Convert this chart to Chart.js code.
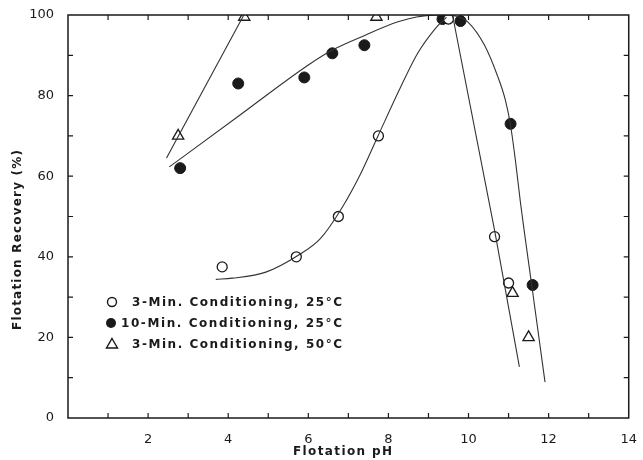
<!DOCTYPE html>
<html>
<head>
<meta charset="utf-8">
<script src="https://cdn.jsdelivr.net/npm/chart.js@4/dist/chart.umd.min.js"></script>
<style>
  html, body { margin: 0; padding: 0; background: #fff; }
  #wrap { width: 643px; height: 460px; }
</style>
</head>
<body>
<div id="wrap"><canvas id="chart"></canvas></div>
<script>
// measured points
const phOpen25 = [3.85, 5.7, 6.75, 7.75, 9.5, 10.65, 11.0];
const recOpen25 = [37.5, 40, 50, 70, 99, 45, 33.5];
const phFilled25 = [2.8, 4.25, 5.9, 6.6, 7.4, 9.35, 9.8, 11.05, 11.6];
const recFilled25 = [62, 83, 84.5, 90.5, 92.5, 99, 98.5, 73, 33];
const phTri50 = [2.75, 4.4, 7.7, 11.1, 11.5];
const recTri50 = [70, 99.5, 99.5, 31, 20];

// hand drawn curves
const curveTriX = [2.46, 4.39];
const curveTriY = [64.5, 100];
const curveFilledX = [2.53, 4.27, 6.0, 6.58, 7.42, 8.24, 8.7, 9.3, 9.7, 9.98, 10.4, 10.72, 10.92, 11.04, 11.17, 11.29, 11.6, 11.91];
const curveFilledY = [62.3, 75, 87.6, 91.2, 95, 98.3, 99.5, 100, 99.7, 98.3, 92.5, 85, 78.9, 73.2, 64, 54, 31.4, 8.9];
const curveOpenX = [3.69, 4.1, 4.94, 5.77, 6.3, 6.83, 7.3, 7.74, 8.3, 8.73, 9.16, 9.45];
const curveOpenY = [34.4, 34.7, 36.2, 40.5, 44.5, 52, 60.5, 70, 82, 90.5, 96.5, 99.5];
const curveOpenDownX = [9.6, 10.65, 11.27];
const curveOpenDownY = [100, 46.6, 12.7];

const xTicks = [2, 4, 6, 8, 10, 12, 14];
const yTicks = [0, 20, 40, 60, 80, 100];

const legendLabels = ["3-Min. Conditioning, 25\u00b0C", "10-Min. Conditioning, 25\u00b0C", "3-Min. Conditioning, 50\u00b0C"];

const ink = "#1a1a1a";
const lineInk = "#333333";
const fontFamily = "'DejaVu Sans', sans-serif";

function toPoints(xs, ys) {
    return xs.map((x, i) => ({ x: x, y: ys[i] }));
}

function curve(xs, ys, smooth) {
    return {
        data: toPoints(xs, ys),
        showLine: true,
        borderColor: lineInk,
        borderWidth: 1.1,
        pointRadius: 0,
        tension: smooth ? 0.4 : 0,
        cubicInterpolationMode: smooth ? "monotone" : "default",
        fill: false
    };
}

// fit a string between two x positions by spreading the letters
function spacedText(ctx, text, x, y, width) {
    ctx.letterSpacing = "0px";
    const w = ctx.measureText(text).width;
    const gap = (width - w) / (text.length - 1);
    ctx.letterSpacing = gap.toFixed(2) + "px";
    ctx.fillText(text, x, y);
    ctx.letterSpacing = "0px";
}

// draws the box, inward ticks, axis titles and the legend
const framePlugin = {
    id: "frame",
    afterDraw(chart) {
        const ctx = chart.ctx;
        const xs = chart.scales.x;
        const ys = chart.scales.y;
        const a = chart.chartArea;
        ctx.save();
        ctx.strokeStyle = ink;
        ctx.lineWidth = 1.5;
        ctx.strokeRect(a.left, a.top, a.right - a.left, a.bottom - a.top);
        ctx.lineWidth = 1.2;
        const len = 5;
        for (let v = 1; v < 14; v++) {
            const px = xs.getPixelForValue(v);
            ctx.beginPath();
            ctx.moveTo(px, a.bottom); ctx.lineTo(px, a.bottom - len);
            ctx.moveTo(px, a.top); ctx.lineTo(px, a.top + len);
            ctx.stroke();
        }
        for (let v = 10; v < 100; v += 10) {
            const py = ys.getPixelForValue(v);
            ctx.beginPath();
            ctx.moveTo(a.left, py); ctx.lineTo(a.left + len, py);
            ctx.moveTo(a.right, py); ctx.lineTo(a.right - len, py);
            ctx.stroke();
        }

        // axis titles
        ctx.fillStyle = ink;
        ctx.font = "bold 12px " + fontFamily;
        ctx.textAlign = "left";
        ctx.textBaseline = "middle";
        spacedText(ctx, "Flotation pH", 293, 452, 99);
        ctx.save();
        ctx.translate(18, 330);
        ctx.rotate(-Math.PI / 2);
        spacedText(ctx, "Flotation Recovery (%)", 0, 0, 180);
        ctx.restore();

        // legend
        ctx.font = "bold 12px " + fontFamily;
        const rows = [302, 323, 344];
        const textX = [132, 121, 132];
        const markX = [112, 111, 112];
        rows.forEach((py, i) => {
            ctx.lineWidth = 1.4;
            ctx.strokeStyle = ink;
            ctx.beginPath();
            if (i === 0) {
                ctx.arc(markX[i], py, 4.5, 0, Math.PI * 2);
                ctx.stroke();
            } else if (i === 1) {
                ctx.arc(markX[i], py, 5, 0, Math.PI * 2);
                ctx.fillStyle = ink;
                ctx.fill();
            } else {
                ctx.moveTo(markX[i], py - 5.5);
                ctx.lineTo(markX[i] + 5.5, py + 4);
                ctx.lineTo(markX[i] - 5.5, py + 4);
                ctx.closePath();
                ctx.stroke();
            }
            ctx.fillStyle = ink;
            spacedText(ctx, legendLabels[i], textX[i], py + 1, 342 - textX[i]);
        });
        ctx.restore();
    }
};

const ctx = document.getElementById("chart").getContext("2d");
new Chart(ctx, {
    type: "scatter",
    data: {
        datasets: [
            curve(curveTriX, curveTriY, false),
            curve(curveFilledX, curveFilledY, true),
            curve(curveOpenX, curveOpenY, true),
            curve(curveOpenDownX, curveOpenDownY, false),
            {
                label: legendLabels[0],
                data: toPoints(phOpen25, recOpen25),
                pointStyle: "circle",
                pointRadius: 5,
                pointBackgroundColor: "#ffffff",
                pointBorderColor: ink,
                pointBorderWidth: 1.3
            },
            {
                label: legendLabels[1],
                data: toPoints(phFilled25, recFilled25),
                pointStyle: "circle",
                pointRadius: 5.5,
                pointBackgroundColor: ink,
                pointBorderColor: ink,
                pointBorderWidth: 1
            },
            {
                label: legendLabels[2],
                data: toPoints(phTri50, recTri50),
                pointStyle: "triangle",
                pointRadius: 6.5,
                pointBackgroundColor: "#ffffff",
                pointBorderColor: ink,
                pointBorderWidth: 1.3
            }
        ]
    },
    options: {
        responsive: true,
        maintainAspectRatio: false,
        animation: false,
        layout: { padding: { top: 15, right: 11, left: 0, bottom: 0 } },
        plugins: {
            legend: { display: false },
            tooltip: { enabled: false }
        },
        scales: {
            x: {
                type: "linear",
                min: 0,
                max: 14,
                afterBuildTicks: axis => { axis.ticks = xTicks.map(v => ({ value: v })); },
                grid: { display: false },
                border: { display: false },
                ticks: {
                    color: ink,
                    padding: 6,
                    font: { family: "DejaVu Sans", size: 13 }
                },
                afterFit: axis => { axis.height = 42; }
            },
            y: {
                min: 0,
                max: 100,
                afterBuildTicks: axis => { axis.ticks = yTicks.map(v => ({ value: v })); },
                grid: { display: false },
                border: { display: false },
                ticks: {
                    color: ink,
                    padding: 6,
                    font: { family: "DejaVu Sans", size: 13 }
                },
                afterFit: axis => { axis.width = 68; }
            }
        }
    },
    plugins: [framePlugin]
});
</script>
</body>
</html>
